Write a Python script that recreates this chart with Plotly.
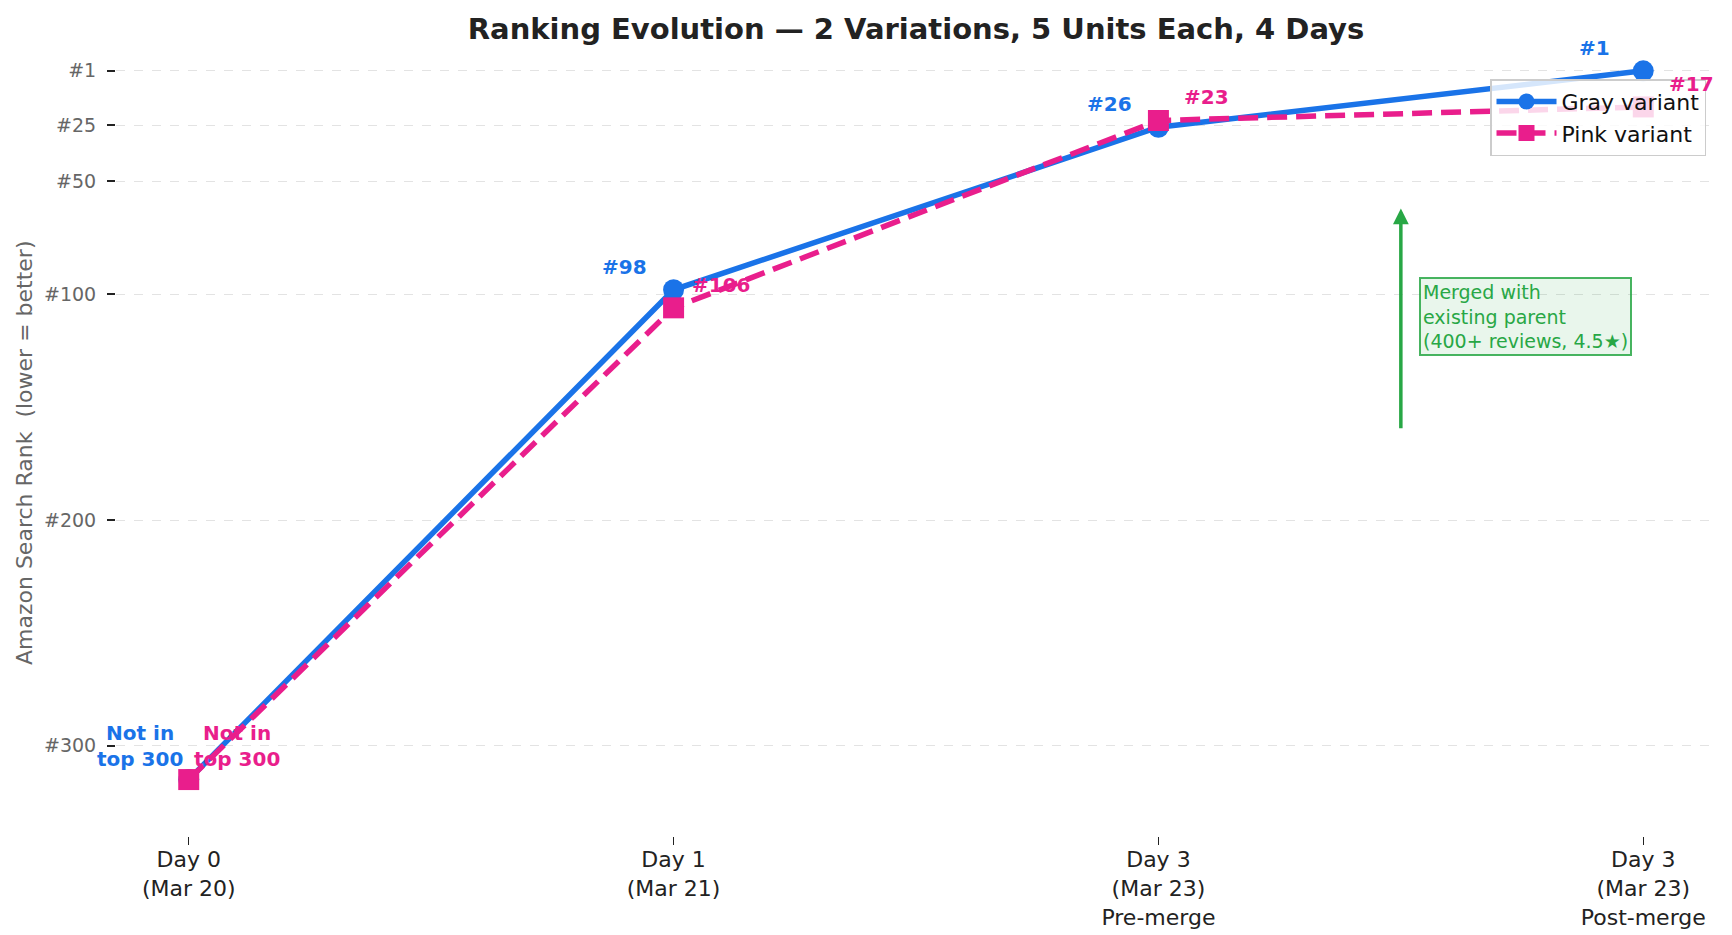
import plotly.graph_objects as go

# ---- data ----
stages = ["Day 0<br>(Mar 20)", "Day 1<br>(Mar 21)", "Day 3<br>(Mar 23)<br>Pre-merge", "Day 3<br>(Mar 23)<br>Post-merge"]
x_pos = [0, 1, 2, 3]
gray_rank = [315, 98, 26, 1]
pink_rank = [315, 106, 23, 17]
gray_labels = ["Not in<br>top 300", "#98", "#26", "#1"]
pink_labels = ["Not in<br>top 300", "#106", "#23", "#17"]
rank_ticks = [1, 25, 50, 100, 200, 300]
rank_ticktext = ["#1", "#25", "#50", "#100", "#200", "#300"]
merge_arrow = {"x": 2.5, "tail": 160, "head": 62}
merge_text = {"x": 2.537, "y": 110, "text": "Merged with<br>existing parent<br>(400+ reviews, 4.5★)"}

BLUE = "#1a73e8"
PINK = "#e91e8c"
GREEN = "#28a745"
FONT = "DejaVu Sans"

fig = go.Figure()
fig.add_trace(go.Scatter(
    x=x_pos, y=gray_rank, name="Gray variant", mode="lines+markers",
    line=dict(color=BLUE, width=5.5),
    marker=dict(symbol="circle", size=21, color=BLUE),
))
fig.add_trace(go.Scatter(
    x=x_pos, y=pink_rank, name="Pink variant", mode="lines+markers",
    line=dict(color=PINK, width=5.5, dash="20px,9px"),
    marker=dict(symbol="square", size=21, color=PINK),
))

annotations = []
for xi, yi, lab in zip(x_pos, gray_rank, gray_labels):
    multi = "<br>" in lab
    annotations.append(dict(
        x=xi, y=yi, xref="x", yref="y", text="<b>%s</b>" % lab, showarrow=False,
        xshift=-49, yshift=34 if multi else 23, xanchor="center", yanchor="middle",
        font=dict(family=FONT, size=20, color=BLUE),
    ))
for xi, yi, lab in zip(x_pos, pink_rank, pink_labels):
    multi = "<br>" in lab
    annotations.append(dict(
        x=xi, y=yi, xref="x", yref="y", text="<b>%s</b>" % lab, showarrow=False,
        xshift=48, yshift=34 if multi else 23, xanchor="center", yanchor="middle",
        font=dict(family=FONT, size=20, color=PINK),
    ))
# merge arrow
annotations.append(dict(
    x=merge_arrow["x"], y=merge_arrow["head"], ax=merge_arrow["x"], ay=merge_arrow["tail"],
    xref="x", yref="y", axref="x", ayref="y", text="", showarrow=True,
    arrowhead=2, arrowsize=0.9, arrowwidth=3.5, arrowcolor=GREEN,
))
annotations.append(dict(
    x=merge_text["x"], y=merge_text["y"], xref="x", yref="y",
    text=merge_text["text"], showarrow=False, xanchor="left", yanchor="middle", align="left",
    font=dict(family=FONT, size=19, color=GREEN),
    bgcolor="rgba(40,167,69,0.10)", bordercolor="rgba(40,167,69,0.85)", borderwidth=2, borderpad=2,
))
# y-axis title (as rotated text)
annotations.append(dict(
    x=-0.0575, y=0.4848, xref="paper", yref="paper", showarrow=False,
    text="Amazon Search Rank  (lower = better)", textangle=-90,
    xanchor="center", yanchor="middle",
    font=dict(family=FONT, size=22, color="#666"),
))

fig.update_layout(
    width=1732, height=935,
    margin=dict(l=116, r=16, t=46, b=99),
    paper_bgcolor="white", plot_bgcolor="white",
    font=dict(family=FONT, color="#222"),
    title=dict(text="<b>Ranking Evolution — 2 Variations, 5 Units Each, 4 Days</b>",
               x=0.5, xref="paper", xanchor="center", y=0.9695, yanchor="middle", yref="container",
               font=dict(family=FONT, size=29, color="#222")),
    showlegend=True,
    legend=dict(x=0.99375, y=0.958, xanchor="right", yanchor="top",
                bgcolor="rgba(255,255,255,0.82)", bordercolor="#cccccc", borderwidth=1.5,
                font=dict(family=FONT, size=22, color="#111"), itemwidth=60,
                tracegroupgap=0),
    annotations=annotations,
)
fig.update_xaxes(
    range=[-0.15, 3.15], tickvals=x_pos, ticktext=stages, automargin=False,
    showgrid=False, zeroline=False, showline=False,
    ticks="outside", ticklen=8, tickwidth=1.2, tickcolor="#222",
    ticklabelstandoff=-4,
    tickfont=dict(family=FONT, size=22, color="#222"),
)
fig.update_yaxes(
    range=[340, -10], tickvals=rank_ticks, ticktext=rank_ticktext, automargin=False,
    showgrid=True, gridcolor="#e3e3e3", griddash="dash", gridwidth=1.2,
    zeroline=False, showline=False,
    ticks="outside", ticklen=8, tickwidth=1.5, tickcolor="#222",
    ticklabelstandoff=7,
    tickfont=dict(family=FONT, size=19, color="#666"),
)

fig.write_html("out.html", config={"displayModeBar": False},
               post_script="document.body.style.margin='0';")
